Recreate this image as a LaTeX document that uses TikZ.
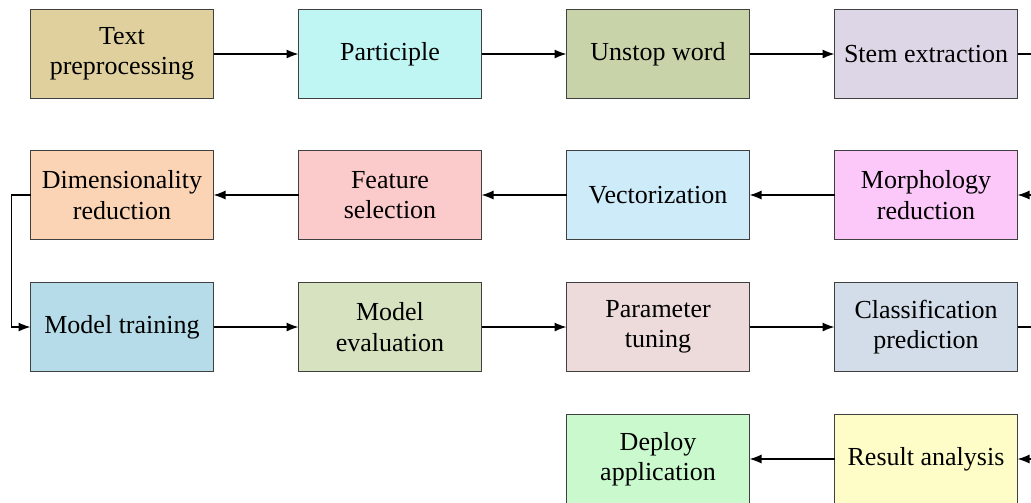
\documentclass[tikz,border=0pt]{standalone}
\usepackage{fontspec}
\setmainfont{Liberation Serif}
\usetikzlibrary{arrows.meta,positioning}

\definecolor{cPre}{HTML}{DFD09E}
\definecolor{cPart}{HTML}{BFF6F3}
\definecolor{cStop}{HTML}{C9D3A9}
\definecolor{cStem}{HTML}{DDD6E6}
\definecolor{cDim}{HTML}{FAD4B5}
\definecolor{cFeat}{HTML}{FBCACA}
\definecolor{cVec}{HTML}{CEEBFA}
\definecolor{cMorph}{HTML}{FCC7F9}
\definecolor{cTrain}{HTML}{B5DCE8}
\definecolor{cEval}{HTML}{D7E3C0}
\definecolor{cTune}{HTML}{EDDADA}
\definecolor{cClass}{HTML}{D3DDE9}
\definecolor{cRes}{HTML}{FEFDC7}
\definecolor{cDep}{HTML}{CAF9CE}

\begin{document}
\begin{tikzpicture}[>={Latex[length=3mm,width=2.3mm]}]
  \tikzstyle{stage} = [draw=black!75, line width=0.8pt, rectangle, minimum height=2.225cm, minimum width=4.575cm, align=center, outer sep=0pt, font={\fontsize{18.5}{21.5}\selectfont}]
  \tikzstyle{flow} = [black, line width=1.1pt, ->]

  \useasboundingbox (0,0) rectangle (25.775,-12.55);

  \node[stage, fill=cPre]   (pre)   at (3.05,-1.35)         {Text\\preprocessing};
  \node[stage, fill=cPart]  (part)  [right=2.125cm of pre]  {Participle};
  \node[stage, fill=cStop]  (stop)  [right=2.125cm of part] {Unstop word};
  \node[stage, fill=cStem]  (stem)  [right=2.125cm of stop] {Stem extraction};

  \node[stage, fill=cDim]   (dim)   [below=1.3cm of pre]    {Dimensionality\\reduction};
  \node[stage, fill=cFeat]  (feat)  [right=2.125cm of dim]  {Feature\\selection};
  \node[stage, fill=cVec]   (vec)   [right=2.125cm of feat] {Vectorization};
  \node[stage, fill=cMorph] (morph) [right=2.125cm of vec]  {Morphology\\reduction};

  \node[stage, fill=cTrain] (train) [below=1.075cm of dim]   {Model training};
  \node[stage, fill=cEval]  (eval)  [right=2.125cm of train] {Model\\evaluation};
  \node[stage, fill=cTune]  (tune)  [right=2.125cm of eval]  {Parameter\\tuning};
  \node[stage, fill=cClass] (class) [right=2.125cm of tune]  {Classification\\prediction};

  \node[stage, fill=cRes]   (res)   [below=1.075cm of class] {Result analysis};
  \node[stage, fill=cDep]   (dep)   [left=2.125cm of res]    {Deploy\\application};

  % first row
  \draw[flow] (pre) -- (part);
  \draw[flow] (part) -- (stop);
  \draw[flow] (stop) -- (stem);
  \draw[flow] (stem.east) -- ++(0.4,0) |- (morph.east);

  % second row, going back
  \draw[flow] (morph) -- (vec);
  \draw[flow] (vec) -- (feat);
  \draw[flow] (feat) -- (dim);
  \draw[flow] (dim.west) -- ++(-0.475,0) |- (train.west);

  % third row
  \draw[flow] (train) -- (eval);
  \draw[flow] (eval) -- (tune);
  \draw[flow] (tune) -- (class);
  \draw[flow] (class.east) -- ++(0.4,0) |- (res.east);

  % last row
  \draw[flow] (res) -- (dep);
\end{tikzpicture}
\end{document}
